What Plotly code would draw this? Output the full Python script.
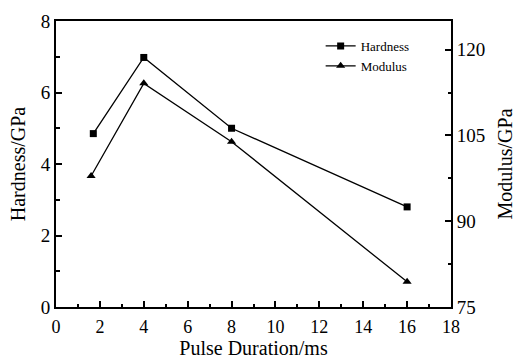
import plotly.graph_objects as go

pulse_hard = [1.7, 4, 8, 16]
hardness = [4.85, 6.98, 5.0, 2.8]
pulse_mod = [1.6, 4, 8, 16]
modulus = [97.9, 114.1, 103.9, 79.4]

FONT = "Liberation Serif, Times New Roman, serif"

fig = go.Figure()
fig.add_trace(go.Scatter(x=pulse_hard, y=hardness, name="Hardness", mode="lines+markers",
                         line=dict(color="black", width=1.3),
                         marker=dict(symbol="square", size=7, color="black")))
fig.add_trace(go.Scatter(x=pulse_mod, y=modulus, name="Modulus", mode="lines+markers",
                         yaxis="y2",
                         line=dict(color="black", width=1.3),
                         marker=dict(symbol="triangle-up", size=8, color="black")))

axis_common = dict(showgrid=False, zeroline=False, showline=True, linecolor="black", linewidth=2,
                   ticks="inside", ticklen=6, tickwidth=1.5, tickcolor="black", automargin=False,
                   tickfont=dict(family=FONT, size=19, color="black"))

fig.update_layout(
    width=516, height=359,
    margin=dict(l=56, r=65, t=21, b=52),
    paper_bgcolor="white", plot_bgcolor="white",
    font=dict(family=FONT, color="black"),
    xaxis=dict(range=[0, 18], tickmode="linear", tick0=0, dtick=2, mirror=True, ticklabelstandoff=2,
               minor=dict(dtick=1, ticklen=3.5, tickwidth=1.5, tickcolor="black", ticks="inside"),
               title=dict(text="Pulse Duration/ms", font=dict(family=FONT, size=20), standoff=3),
               **{**axis_common, "tickfont": dict(family=FONT, size=18, color="black")}),
    yaxis=dict(range=[0, 8], tickmode="linear", tick0=0, dtick=2,
               minor=dict(dtick=1, ticklen=3.5, tickwidth=1.5, tickcolor="black", ticks="inside"),
               title=dict(text="Hardness/GPa", font=dict(family=FONT, size=20), standoff=10),
               **axis_common),
    yaxis2=dict(range=[75, 125], overlaying="y", side="right", tickmode="linear", tick0=75, dtick=15,
                minor=dict(dtick=7.5, ticklen=3.5, tickwidth=1.5, tickcolor="black", ticks="inside"),
                title=dict(text="Modulus/GPa", font=dict(family=FONT, size=20), standoff=14),
                **axis_common),
    legend=dict(x=0.67, y=0.965, xanchor="left", yanchor="top", bgcolor="rgba(0,0,0,0)",
                font=dict(family=FONT, size=13), itemwidth=30, tracegroupgap=0),
    showlegend=True,
)

fig.write_html("out.html", config={"displayModeBar": False},
               post_script="document.body.style.margin='0';document.body.style.overflow='hidden';")
